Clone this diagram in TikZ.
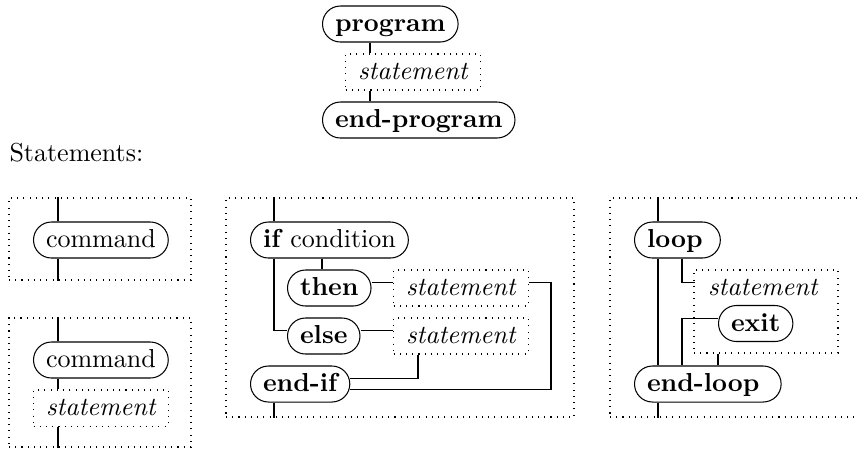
\documentclass[tikz,border=0pt]{standalone}
\usetikzlibrary{fit}
\tikzset{
  kw/.style={draw, rounded corners=6.9pt, inner xsep=4.8pt, inner ysep=0pt,
    minimum height=13.85pt, text height=8pt, text depth=2pt, anchor=west, font=\bfseries},
  stbox/.style={draw, dotted, inner xsep=4.8pt, inner ysep=0pt,
    minimum height=13.85pt, text height=8pt, text depth=2pt, anchor=west, font=\itshape},
  panel/.style={draw, dotted, inner sep=0pt},
}
\begin{document}
\begin{tikzpicture}[x=0.3846pt, y=-0.3846pt]
\useasboundingbox (0,0) rectangle (857,451);
% main program
\node[kw] (prog) at (322,24) {program};
\node[stbox] (s0) at (345,72) {statement};
\node[kw] (endprog) at (322,120) {end-program};
\coordinate (L0) at (370,0);
\draw (L0 |- prog.south) -- (L0 |- s0.north);
\draw (L0 |- s0.south) -- (L0 |- endprog.north);
\node[anchor=base west, inner sep=0pt] (hdr) at (9,161) {Statements:};
% panel 1
\coordinate (p1a) at (9,198); \coordinate (p1b) at (191,280);
\node[panel, fit=(p1a)(p1b)] (P1) {};
\node[kw, font=\normalfont] (cmd1) at (33,240) {command};
\coordinate (L1) at (58,0);
\draw (L1 |- P1.north) -- (L1 |- cmd1.north);
\draw (L1 |- cmd1.south) -- (L1 |- P1.south);
% panel 2
\coordinate (p2a) at (9,318); \coordinate (p2b) at (191,447);
\node[panel, fit=(p2a)(p2b)] (P2) {};
\node[kw, font=\normalfont] (cmd2) at (33,360) {command};
\node[stbox] (s4) at (33,408) {statement};
\draw (L1 |- P2.north) -- (L1 |- cmd2.north);
\draw (L1 |- cmd2.south) -- (L1 |- s4.north);
\draw (L1 |- s4.south) -- (L1 |- P2.south);
% panel 3 (if)
\coordinate (p3a) at (226,198); \coordinate (p3b) at (574,417);
\node[panel, fit=(p3a)(p3b)] (P3) {};
\node[kw] (if) at (250,240) {if \normalfont condition};
\node[kw] (then) at (287,288) {then};
\node[stbox] (s1) at (393,288) {statement};
\node[kw] (else) at (287,336) {else};
\node[stbox] (s2) at (393,336) {statement};
\node[kw] (endif) at (250,384) {end-if};
\coordinate (L3) at (274,0);
\coordinate (T3) at (322,0);
\coordinate (R3) at (551,0);
\coordinate (X3) at (418,0);
\draw (L3 |- P3.north) -- (L3 |- if.north);
\draw (L3 |- if.south) |- ([yshift=2pt]else.west);
\draw (T3 |- if.south) -- (T3 |- then.north);
\draw ([yshift=2pt]then.east) -- ([yshift=2pt]s1.west);
\draw ([yshift=2pt]else.east) -- ([yshift=2pt]s2.west);
\coordinate (B1) at ([yshift=-2pt]endif.east);
\coordinate (B2) at ([yshift=2.3pt]endif.east);
\draw ([yshift=2.3pt]s1.east) -| (R3 |- B1) -- (B1);
\draw (X3 |- s2.south) |- (B2);
\draw (L3 |- endif.south) -- (L3 |- P3.south);
% panel 4 (loop)
\coordinate (p4a) at (610,198); \coordinate (p4b) at (880,417);
\node[panel, fit=(p4a)(p4b)] (P4) {};
\node[kw] (loop) at (634,240) {loop\kern2pt};
\coordinate (s3a) at (694,270); \coordinate (s3b) at (838,353);
\node[panel, fit=(s3a)(s3b)] (s3) {};
\node[stbox, draw=none] (s3t) at (695,288) {statement};
\node[kw] (exit) at (718,323.5) {exit};
\node[kw] (endloop) at (634,384) {end-loop\kern3.5pt};
\coordinate (L4) at (658,0);
\coordinate (M4) at (682,0);
\coordinate (X4) at (718,0);
\draw (L4 |- P4.north) -- (L4 |- loop.north);
\draw (L4 |- loop.south) -- (L4 |- endloop.north);
\draw (M4 |- loop.south) |- ([yshift=2.2pt]s3t.west);
\draw ([yshift=2pt]exit.west) -| (M4 |- endloop.north);
\draw (X4 |- s3.south) -- (X4 |- endloop.north);
\draw (L4 |- endloop.south) -- (L4 |- P4.south);
\end{tikzpicture}
\end{document}
